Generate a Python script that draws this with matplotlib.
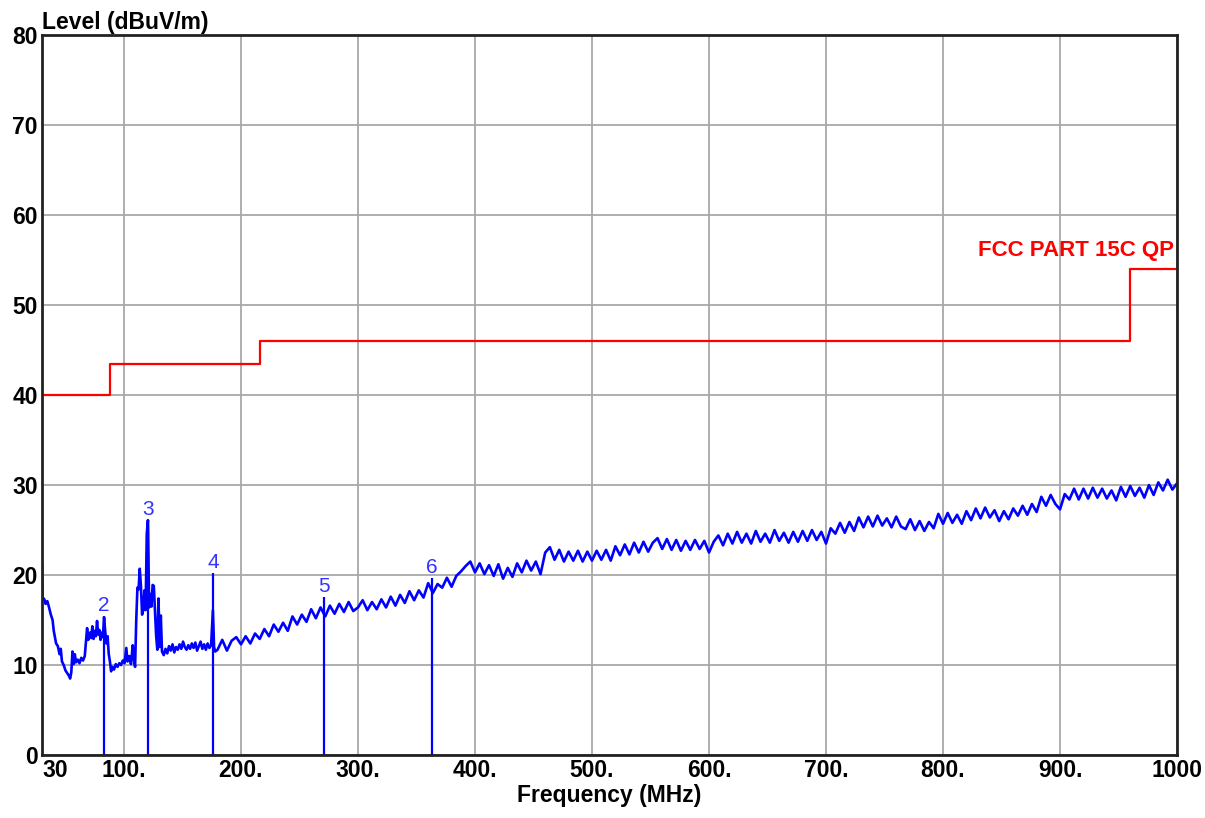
import numpy as np
import matplotlib
matplotlib.use("Agg")
import matplotlib.pyplot as plt

# low band 30-178 MHz
freq_lo = [30.0, 30.5, 32, 33, 34.5, 36, 37.5, 39, 40, 41, 42, 43.5, 45, 46, 47, 48.5,
           50, 51.5, 53, 54, 55, 56, 57, 58, 59, 60.5, 62, 63.5, 65, 66.5, 67.5, 68.5,
           69.5, 71, 72, 73, 74, 75, 76, 77, 78, 79, 80, 81, 82, 83, 84, 85, 86, 87, 88,
           89, 90, 91.5, 93, 94.5, 96, 97.5, 99, 100.5, 102, 103, 104.5, 106, 107.5,
           108.5, 109.5, 110.5, 111.5, 112.5, 113.5, 114.5, 115.5, 116.5, 117.5, 118.5,
           119.5, 120.5, 121.5, 122.5, 123.5, 124.5, 125.5, 126.5, 127.5, 128.5, 129.5,
           130.5, 131.5, 132.5, 134, 135.5, 137, 138.5, 140, 141.5, 143, 144.5, 146,
           147.5, 149, 150.5, 152, 153.5, 155, 156.5, 158, 159.5, 161, 162.5, 164,
           165.5, 167, 168.5, 170, 171.5, 173, 174.5, 176, 177, 178]
level_lo = [21.2, 17.5, 17.3, 16.8, 17.1, 16.4, 15.6, 15.0, 13.8, 13.1, 12.4, 12.1, 11.2,
            11.8, 10.4, 10.0, 9.4, 9.1, 8.8, 8.5, 9.2, 11.5, 10.1, 11.2, 10.3, 10.6, 10.2,
            10.8, 10.5, 11.0, 12.6, 14.1, 12.8, 13.6, 13.0, 14.3, 12.9, 13.8, 13.2, 14.9,
            13.4, 13.9, 12.8, 13.6, 13.1, 15.3, 13.7, 12.4, 13.2, 11.2, 10.4, 9.3, 9.8,
            9.5, 10.1, 9.8, 10.2, 10.0, 10.5, 10.2, 11.9, 10.4, 11.0, 10.1, 12.2, 10.6,
            9.8, 15.0, 18.6, 18.4, 20.7, 18.8, 15.6, 16.2, 18.3, 16.1, 24.6, 26.1, 16.4,
            17.9, 16.5, 18.9, 18.8, 16.0, 13.3, 11.7, 17.4, 12.0, 15.5, 11.5, 11.1, 11.8,
            11.3, 12.1, 11.6, 12.3, 11.4, 12.0, 11.7, 12.3, 11.8, 12.6, 12.0, 11.7, 12.2,
            11.8, 12.4, 11.9, 12.5, 11.6, 12.1, 12.6, 11.8, 12.3, 11.7, 12.4, 11.9, 12.2,
            16.1, 12.0, 11.5]

# high band 180-1000 MHz, 4 MHz sweep step
level_hi = [11.7, 12.8, 11.6, 12.7, 13.1,
            12.3, 13.2, 12.4, 13.5, 12.9, 14.0, 13.2, 14.5,
            13.7, 14.7, 13.8, 15.4, 14.5, 15.6, 14.8,
            16.2, 15.2, 16.4, 15.4, 16.6, 15.7, 16.8, 15.9, 17.0, 16.0,
            16.4, 17.2, 16.1, 17.0, 16.2, 17.3, 16.4, 17.6, 16.6, 17.8, 16.9, 18.2, 17.2,
            18.3, 17.5, 19.1, 18.0, 19.0, 18.6, 19.7, 18.7, 19.9, 20.4, 21.0, 21.5,
            20.3, 21.3, 20.1, 21.1, 19.9, 21.2, 19.6, 20.8, 19.8, 21.3, 20.3, 21.6, 20.5,
            21.5, 20.1,
            22.5, 23.1, 21.7, 22.8, 21.5, 22.6, 21.6, 22.7, 21.5, 22.6, 21.6, 22.7, 21.7,
            22.8, 21.6,
            23.2, 22.2, 23.4, 22.3, 23.6, 22.5, 23.7, 22.6, 23.6,
            24.1, 22.9, 24.0, 22.8, 23.9, 22.7, 23.8, 22.8, 23.9, 22.9, 23.8,
            22.5,
            23.7, 24.4, 23.3, 24.6, 23.5, 24.8, 23.6, 24.6, 23.5, 24.9, 23.7, 24.6, 23.6,
            25.0, 23.8, 24.7, 23.6, 24.8, 23.7, 24.9, 23.8, 25.0, 23.9, 24.8, 23.5,
            25.2, 24.6, 25.8, 24.7, 25.9, 24.9, 26.4, 25.3, 26.5, 25.4, 26.6, 25.5, 26.3,
            25.3, 26.5, 25.4, 25.1, 26.2, 25.0, 26.0, 24.9, 25.9, 25.2,
            26.8, 25.7, 26.9, 25.8, 26.7, 25.7, 27.1, 26.1, 27.4, 26.3, 27.5, 26.4, 27.2,
            26.0,
            27.1, 26.2, 27.4, 26.6, 27.7, 26.7, 27.9, 27.0,
            28.7, 27.7, 28.9, 27.9,
            27.3,
            29.0, 28.4, 29.6, 28.4, 29.6, 28.5, 29.7, 28.6, 29.6, 28.5, 29.4, 28.3, 29.8,
            28.7, 29.9, 28.8, 29.7, 28.6, 30.0, 28.9,
            30.3, 29.4, 30.6, 29.5, 30.2]

# FCC part 15C QP limit
limit_freq = [30, 88, 216, 960, 1000]
limit_level = [40, 43.5, 46, 54, 54]

# marked peaks
marker_ids = ["2", "3", "4", "5", "6"]
marker_freq = [83.0, 120.6, 176.0, 271.0, 363.0]
marker_level = [15.5, 26.1, 20.2, 17.6, 19.7]

xtick_pos = [30, 100, 200, 300, 400, 500, 600, 700, 800, 900, 1000]
xtick_lab = ["30", "100.", "200.", "300.", "400.", "500.", "600.", "700.", "800.", "900.", "1000"]

freq_hi = np.linspace(180, 1000, len(level_hi))
freq = np.concatenate([freq_lo, freq_hi])
level = np.concatenate([level_lo, level_hi])

plt.rcParams['font.family'] = ['Liberation Sans', 'DejaVu Sans']

fig = plt.figure(figsize=(12.05, 8.18), dpi=100)
ax = fig.add_axes([0.0349, 0.077, 0.9419, 0.880])

ax.plot(freq, level, color='#0000ff', lw=1.9)
ax.step(limit_freq, limit_level, where='post', color='#ff0000', lw=1.6)

for mid, mf, ml in zip(marker_ids, marker_freq, marker_level):
    ax.vlines(mf, 0, ml, color='#0000ff', lw=1.6)
    ax.text(mf, ml + 0.1, mid, color='#3333ff', fontsize=15, ha='center', va='bottom')

ax.text(997, 54.9, "FCC PART 15C QP", color='#ff0000', fontsize=16,
        fontweight='bold', ha='right', va='bottom')

ax.set_xlim(30, 1000)
ax.set_ylim(0, 80)
ax.set_xticks(xtick_pos)
ax.set_xticklabels(xtick_lab)
ax.set_yticks(range(0, 81, 10))
ax.tick_params(length=0, labelsize=16.5, pad=3)
for t in ax.get_xticklabels() + ax.get_yticklabels():
    t.set_fontweight('bold')
ax.get_xticklabels()[0].set_horizontalalignment('left')

ax.grid(True, color='#a8a8a8', lw=1.3)
ax.set_axisbelow(True)
for s in ax.spines.values():
    s.set_color('#222222')
    s.set_linewidth(2)

ax.set_xlabel("Frequency (MHz)", fontsize=16.5, fontweight='bold', labelpad=1)
ax.text(0, 1.002, "Level (dBuV/m)", transform=ax.transAxes, fontsize=16.5,
        fontweight='bold', ha='left', va='bottom')

fig.savefig("out.png", dpi=100)
